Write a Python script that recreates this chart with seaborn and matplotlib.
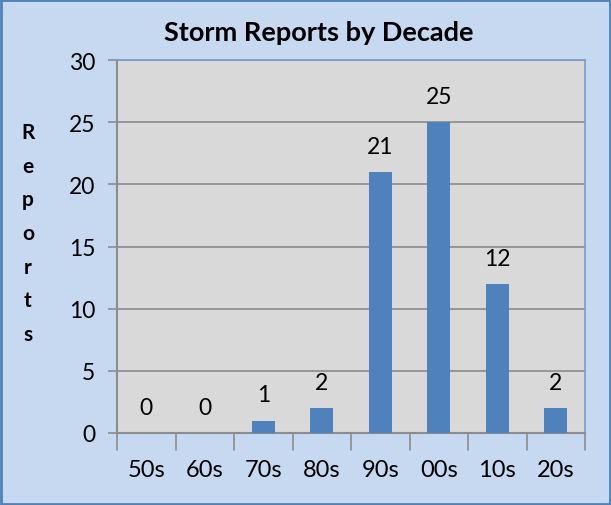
import matplotlib
matplotlib.use("Agg")
import matplotlib.pyplot as plt
import seaborn as sns
import pandas as pd
from matplotlib.patches import Rectangle

decades = ["50s", "60s", "70s", "80s", "90s", "00s", "10s", "20s"]
reports = [0, 0, 1, 2, 21, 25, 12, 2]
y_ticks = [0, 5, 10, 15, 20, 25, 30]

df = pd.DataFrame({"Decade": decades, "Reports": reports})

sns.set_theme(style="white")
plt.rcParams["font.family"] = ["Lato", "DejaVu Sans"]
plt.rcParams["text.color"] = "black"
plt.rcParams["xtick.color"] = "black"
plt.rcParams["ytick.color"] = "black"

fig = plt.figure(figsize=(6.11, 5.06), dpi=100, facecolor="#C6D9F1")
ax = fig.add_axes([117/611, 1-434/506, (585-117)/611, (434-61)/506])
ax.set_facecolor("#D9D9D9")

sns.barplot(data=df, x="Decade", y="Reports", color="#4F81BD", saturation=1,
            width=0.4, ax=ax, zorder=3, edgecolor="none", linewidth=0)

ax.set_ylim(0, 30)
ax.set_xlim(-0.5, len(decades) - 0.5)
ax.set_yticks(y_ticks)
ax.yaxis.grid(True, color="#8C8C8C", linewidth=1.2, zorder=0)
ax.set_axisbelow(True)

for c in ax.containers:
    ax.bar_label(c, labels=[str(v) for v in reports], padding=11, fontsize=16.5, color="black")

# x ticks at category boundaries
ax.set_xticks(range(len(decades)))
ax.set_xticklabels(decades, fontsize=17, color="black")
ax.tick_params(axis="x", length=0, pad=19)
for b in [i - 0.5 for i in range(len(decades) + 1)]:
    ax.plot([b, b], [0, -0.045], transform=ax.get_xaxis_transform(), color="#8C8C8C",
            lw=1.2, clip_on=False)
ax.tick_params(axis="y", direction="out", length=6.5, width=1.2, color="#8C8C8C",
               labelcolor="black", labelsize=16.5, left=True, pad=9)

for s in ["left", "bottom"]:
    ax.spines[s].set_color("#8C8C8C")
    ax.spines[s].set_linewidth(1.5)
for s in ["top", "right"]:
    ax.spines[s].set_color("#7A9CCB")
    ax.spines[s].set_linewidth(1.2)

ax.set_xlabel("")
ax.set_ylabel("")

fig.text(319/611, 1-33/506, "Storm Reports by Decade", ha="center", va="center",
         fontsize=19.5, fontweight="bold", color="black")
fig.text(28/611, 1-234/506, "R\ne\np\no\nr\nt\ns", ha="center", va="center",
         fontsize=15, fontweight="bold", linespacing=1.85, color="black")

fig.patches.append(Rectangle((0.002, 0.002), 0.996, 0.996, transform=fig.transFigure,
                             fill=False, edgecolor="#4F81BD", linewidth=2))

fig.savefig("out.png", dpi=100, facecolor=fig.get_facecolor())
